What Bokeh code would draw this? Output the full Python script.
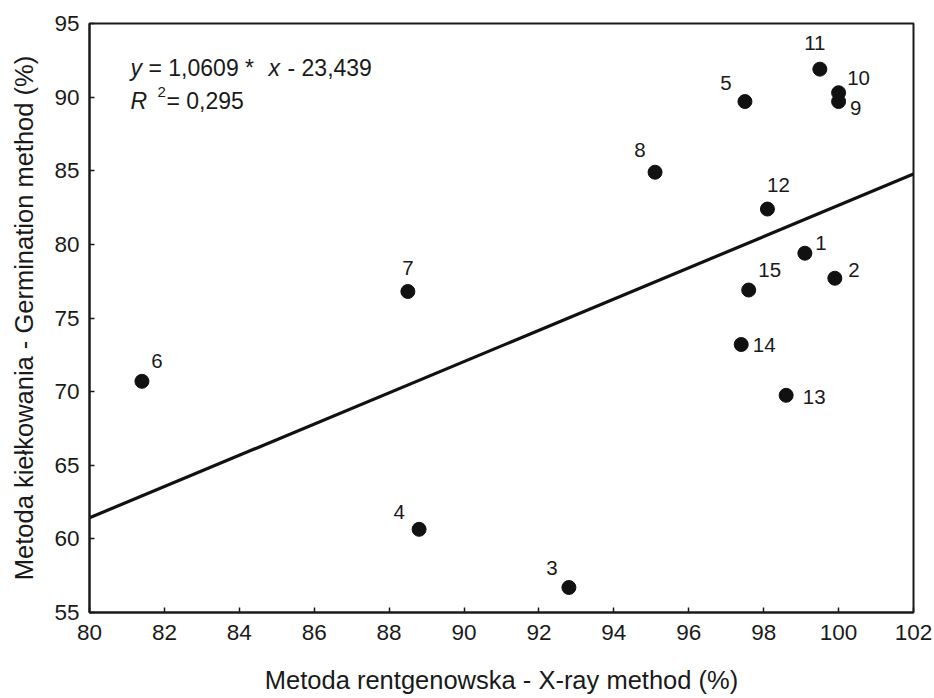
from bokeh.plotting import figure
from bokeh.models import ColumnDataSource, Range1d, FixedTicker
from bokeh.core.properties import value
from bokeh.embed import file_html
from bokeh.resources import INLINE

# ---- data ----
sample_ids = ["1", "2", "3", "4", "5", "6", "7", "8", "9", "10", "11", "12", "13", "14", "15"]
xray_pct = [99.1, 99.9, 92.8, 88.8, 97.5, 81.4, 88.5, 95.1, 100.0, 100.0, 99.5, 98.1, 98.6, 97.4, 97.6]
germ_pct = [79.4, 77.7, 56.7, 60.65, 89.7, 70.7, 76.8, 84.9, 89.7, 90.3, 91.9, 82.4, 69.75, 73.2, 76.9]
slope = 1.0609
intercept = -23.439
x_ticks = [80, 82, 84, 86, 88, 90, 92, 94, 96, 98, 100, 102]
y_ticks = [55, 60, 65, 70, 75, 80, 85, 90, 95]
x_title = "Metoda rentgenowska - X-ray method (%)"
y_title = "Metoda kiełkowania - Germination method (%)"

# label placement (screen pixel offsets relative to each point)
lab_dx = [16, 19, -17, -20, -19, 15, 0, -15, 17, 20, -5, 11, 28, 23, 21]
lab_dy = [-10, -8, -19, -17, -19, -20, -23, -22, 6, -15, -26, -24, 2, 0, -20]

FONT = "Liberation Sans"
TXT = "#1a1a1a"

p = figure(width=934, height=698, output_backend="svg", toolbar_location=None,
           x_range=Range1d(x_ticks[0], x_ticks[-1]), y_range=Range1d(y_ticks[0], y_ticks[-1]),
           min_border_left=89, min_border_right=21, min_border_top=23, min_border_bottom=86)
p.background_fill_color = "white"
p.border_fill_color = "white"
p.grid.visible = False
p.outline_line_color = "#1a1a1a"
p.outline_line_width = 2

for ax in (p.xaxis[0], p.yaxis[0]):
    ax.axis_line_color = "#1a1a1a"
    ax.axis_line_width = 2
    ax.major_tick_in = 5
    ax.major_tick_out = 0
    ax.major_tick_line_color = "#1a1a1a"
    ax.major_tick_line_width = 1.5
    ax.minor_tick_line_color = None
    ax.major_label_text_font = FONT
    ax.major_label_text_font_size = "22.5px"
    ax.major_label_text_color = TXT
    ax.axis_label_text_font = FONT
    ax.axis_label_text_font_size = "25.5px"
    ax.axis_label_text_font_style = "normal"
    ax.axis_label_text_color = TXT

p.xaxis.ticker = FixedTicker(ticks=x_ticks)
p.yaxis.ticker = FixedTicker(ticks=y_ticks)
p.xaxis.axis_label = x_title
p.yaxis.axis_label = y_title
p.xaxis.major_label_standoff = 12
p.yaxis.major_label_standoff = 10
p.xaxis.axis_label_standoff = 23
p.yaxis.axis_label_standoff = 13

# regression line
lx = [x_ticks[0], x_ticks[-1]]
ly = [slope * v + intercept for v in lx]
p.line(lx, ly, line_color="#111111", line_width=3.2)

src = ColumnDataSource(dict(x=xray_pct, y=germ_pct, t=sample_ids, dx=lab_dx, dy=lab_dy))
p.scatter("x", "y", source=src, size=14, fill_color="#111111", line_color="#111111")
p.text("x", "y", text="t", source=src, x_offset="dx", y_offset="dy",
       text_align="center", text_baseline="middle", text_font=value(FONT),
       text_font_size="20.5px", text_color=TXT)

# equation text, anchored at top-left corner of the frame
x0, y0 = x_ticks[0], y_ticks[-1]
eq_parts = [
    ("y", 41, 44, "italic", "23px"),
    ("= 1,0609 *", 59, 44, "normal", "23px"),
    ("x", 179, 44, "italic", "23px"),
    ("- 23,439", 198, 44, "normal", "23px"),
    ("R", 41, 77, "italic", "23px"),
    ("2", 68, 68, "normal", "15px"),
    ("= 0,295", 77, 77, "normal", "23px"),
]
for t, ox, oy, st, fs in eq_parts:
    p.text([x0], [y0], text=[t], x_offset=ox, y_offset=oy, text_align="left",
           text_baseline="alphabetic", text_font=value(FONT), text_font_style=st,
           text_font_size=fs, text_color=TXT)

open("out.html", "w").write(file_html(p, INLINE))
